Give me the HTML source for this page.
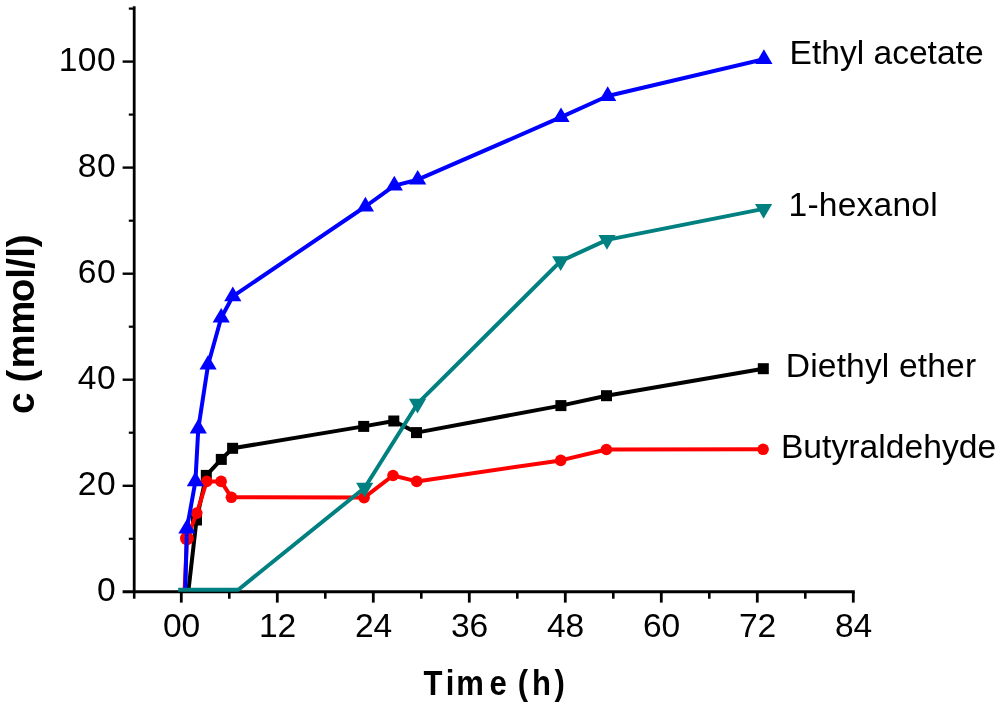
<!DOCTYPE html>
<html lang="en"><head><meta charset="utf-8"><title>Concentration vs time</title>
<style>
html,body{margin:0;padding:0;background:#fff;}
svg{display:block;}
text{font-family:"Liberation Sans",Arial,Helvetica,sans-serif;fill:#000;}
.t{font-size:33.6px;}
.b{font-weight:bold;}
</style></head><body>
<svg width="1000" height="709" viewBox="0 0 1000 709">
<rect width="1000" height="709" fill="#fff"/>
<g stroke="#000" stroke-width="3" fill="none" stroke-linecap="butt">
<path d="M134.2 6.3V593.1" stroke-width="2.8"/>
<path d="M122.6 591.7H854.8" stroke-width="2.9"/>
<path d="M128.8 538.8H134" stroke-width="2.2"/>
<path d="M122.6 485.8H134" stroke-width="2.4"/>
<path d="M128.8 432.7H134" stroke-width="2.2"/>
<path d="M122.6 379.7H134" stroke-width="2.4"/>
<path d="M128.8 326.7H134" stroke-width="2.2"/>
<path d="M122.6 273.7H134" stroke-width="2.4"/>
<path d="M128.8 220.7H134" stroke-width="2.2"/>
<path d="M122.6 167.6H134" stroke-width="2.4"/>
<path d="M128.8 114.6H134" stroke-width="2.2"/>
<path d="M122.6 61.6H134" stroke-width="2.4"/>
<path d="M128.8 8.6H134" stroke-width="2.2"/>
<path d="M134.2 592V598.7" stroke-width="2.6"/>
<path d="M181.3 592V602.6" stroke-width="2.8"/>
<path d="M229.3 592V598.7" stroke-width="2.6"/>
<path d="M277.3 592V602.6" stroke-width="2.8"/>
<path d="M325.3 592V598.7" stroke-width="2.6"/>
<path d="M373.3 592V602.6" stroke-width="2.8"/>
<path d="M421.3 592V598.7" stroke-width="2.6"/>
<path d="M469.3 592V602.6" stroke-width="2.8"/>
<path d="M517.3 592V598.7" stroke-width="2.6"/>
<path d="M565.3 592V602.6" stroke-width="2.8"/>
<path d="M613.3 592V598.7" stroke-width="2.6"/>
<path d="M661.3 592V602.6" stroke-width="2.8"/>
<path d="M709.3 592V598.7" stroke-width="2.6"/>
<path d="M757.3 592V602.6" stroke-width="2.8"/>
<path d="M805.3 592V598.7" stroke-width="2.6"/>
<path d="M853.3 592V602.6" stroke-width="2.8"/>
</g>
<g class="t" text-anchor="end" letter-spacing="0.5">
<text x="116.2" y="601.0">0</text>
<text x="116.2" y="495.0">20</text>
<text x="116.2" y="388.9">40</text>
<text x="116.2" y="282.9">60</text>
<text x="116.2" y="176.8">80</text>
<text x="116.2" y="70.8">100</text>
</g>
<g class="t" text-anchor="middle">
<text x="181.6" y="637.4">00</text>
<text x="277.6" y="637.4">12</text>
<text x="373.6" y="637.4">24</text>
<text x="469.6" y="637.4">36</text>
<text x="565.6" y="637.4">48</text>
<text x="661.6" y="637.4">60</text>
<text x="757.6" y="637.4">72</text>
<text x="853.6" y="637.4">84</text>
</g>
<text class="b" transform="translate(0 695) scale(0.900 1)" font-size="34.5" text-anchor="middle" x="481.1 500.2 522.4 553.6 567.8 581.1 601.6 622.0" y="0">Time (h)</text>
<text class="b" transform="translate(34.0 0) rotate(-90) scale(1.000 1)" font-size="38.5" text-anchor="middle" x="-403.3 -389.5 -376.0 -351.4 -317.7 -290.5 -273.3 -263.3 -252.3 -240.9" y="0">c (mmol/l)</text>
<g fill="#000" stroke="none">
<polyline points="188.5,590.0 196.5,520.0 206.3,475.4 221.3,459.4 232.6,448.3 363.7,426.4 393.8,421.0 416.5,432.6 560.9,405.6 606.5,395.7 763.3,368.7" fill="none" stroke="#000" stroke-width="4.0" stroke-linejoin="round"/>
<rect x="191.0" y="514.5" width="11" height="11"/>
<rect x="200.8" y="469.9" width="11" height="11"/>
<rect x="215.8" y="453.9" width="11" height="11"/>
<rect x="227.1" y="442.8" width="11" height="11"/>
<rect x="358.2" y="420.9" width="11" height="11"/>
<rect x="388.3" y="415.5" width="11" height="11"/>
<rect x="411.0" y="427.1" width="11" height="11"/>
<rect x="555.4" y="400.1" width="11" height="11"/>
<rect x="601.0" y="390.2" width="11" height="11"/>
<rect x="757.8" y="363.2" width="11" height="11"/>
</g>
<g fill="#f00" stroke="none">
<polyline points="184.6,590.0 186.9,538.4 196.8,513.1 206.7,481.4 221.1,481.4 231.4,497.3 364.1,497.6 393.0,475.5 416.7,481.4 560.7,460.4 606.4,449.5 763.1,449.3" fill="none" stroke="#f00" stroke-width="4.0" stroke-linejoin="round"/>
<circle cx="186.9" cy="538.4" r="6.9"/>
<circle cx="196.8" cy="513.1" r="5.8"/>
<circle cx="206.7" cy="481.4" r="5.8"/>
<circle cx="221.1" cy="481.4" r="5.8"/>
<circle cx="231.4" cy="497.3" r="5.8"/>
<circle cx="364.1" cy="497.6" r="5.8"/>
<circle cx="393.0" cy="475.5" r="5.8"/>
<circle cx="416.7" cy="481.4" r="5.8"/>
<circle cx="560.7" cy="460.4" r="5.8"/>
<circle cx="606.4" cy="449.5" r="5.8"/>
<circle cx="763.1" cy="449.3" r="5.8"/>
</g>
<g fill="#00f" stroke="none">
<polyline points="185.3,590.0 186.9,528.7 195.4,481.4 198.3,428.6 208.1,364.7 221.2,317.7 232.8,296.4 365.4,206.5 394.3,185.6 417.7,179.7 561.0,117.2 607.7,96.0 763.9,59.1" fill="none" stroke="#00f" stroke-width="4.0" stroke-linejoin="round"/>
<path d="M186.9 518.9L195.5 533.6H178.3Z"/>
<path d="M195.4 471.6L204.0 486.3H186.8Z"/>
<path d="M198.3 418.8L206.9 433.5H189.7Z"/>
<path d="M208.1 354.9L216.7 369.6H199.5Z"/>
<path d="M221.2 307.9L229.8 322.6H212.6Z"/>
<path d="M232.8 286.6L241.4 301.3H224.2Z"/>
<path d="M365.4 196.7L374.0 211.4H356.8Z"/>
<path d="M394.3 175.8L402.9 190.5H385.7Z"/>
<path d="M417.7 169.9L426.3 184.6H409.1Z"/>
<path d="M561.0 107.4L569.6 122.1H552.4Z"/>
<path d="M607.7 86.2L616.3 100.9H599.1Z"/>
<path d="M763.9 49.3L772.5 64.0H755.3Z"/>
</g>
<g fill="#008080" stroke="none">
<polyline points="178.2,589.7 238.3,589.7 364.7,487.7 417.5,403.7 560.7,261.1 607.0,239.9 763.6,208.9" fill="none" stroke="#008080" stroke-width="4.0" stroke-linejoin="round"/>
<path d="M364.7 497.5L373.3 482.8H356.1Z"/>
<path d="M417.5 413.5L426.1 398.8H408.9Z"/>
<path d="M560.7 270.9L569.3 256.2H552.1Z"/>
<path d="M607.0 249.7L615.6 235.0H598.4Z"/>
<path d="M763.6 218.7L772.2 204.0H755.0Z"/>
</g>
<g class="t">
<text x="789.5" y="64.2" letter-spacing="0">Ethyl acetate</text>
<text x="788.6" y="216" letter-spacing="0.2">1-hexanol</text>
<text x="785.8" y="376.7" letter-spacing="0.15">Diethyl ether</text>
<text x="780.9" y="457.8" letter-spacing="0.05">Butyraldehyde</text>
</g>
</svg></body></html>
